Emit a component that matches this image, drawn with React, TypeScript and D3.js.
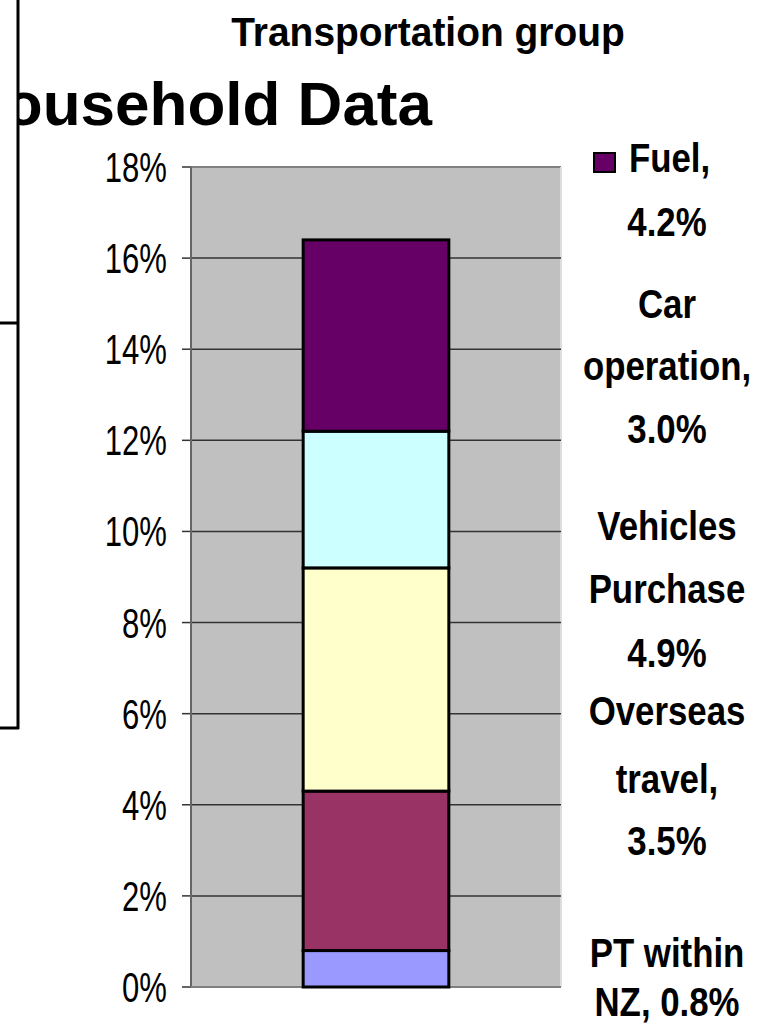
import * as d3 from "d3";

const width = 767;
const height = 1024;
const plot = { left: 191, right: 561, top: 167, bottom: 987 };

// stack order bottom -> top
const categories = ["PT within NZ", "Overseas travel", "Vehicles Purchase", "Car operation", "Fuel"];
const values = [0.8, 3.5, 4.9, 3.0, 4.2];
const colors = ["#9999FF", "#993366", "#FFFFCC", "#CCFFFF", "#660066"];
const yTicks = [0, 2, 4, 6, 8, 10, 12, 14, 16, 18];

// legend text, top -> bottom
const legendLines = [
  ["Fuel,", "4.2%"],
  ["Car", "operation,", "3.0%"],
  ["Vehicles", "Purchase", "4.9%"],
  ["Overseas", "travel,", "3.5%"],
  ["PT within", "NZ, 0.8%"],
];
const legendBaselines = [
  [172, 236],
  [318, 380, 443],
  [540, 603, 667],
  [725, 793, 855],
  [967, 1016],
];

const font = "'Liberation Sans', Arial, sans-serif";

function SText({ x, y, sx = 1, sy = 1, size, anchor = "start", bold = false, children }) {
  return (
    <text
      transform={`translate(${x},${y}) scale(${sx},${sy})`}
      fontFamily={font}
      fontSize={size}
      fontWeight={bold ? "bold" : "normal"}
      textAnchor={anchor}
      fill="#000"
    >
      {children}
    </text>
  );
}

export default function App() {
  const y = d3.scaleLinear().domain([0, 18]).range([plot.bottom, plot.top]);
  const x = d3
    .scaleBand()
    .domain(["Transportation"])
    .range([plot.left, plot.right])
    .paddingInner(0)
    .paddingOuter(0.77);

  // cumulative stack
  const stack = [];
  let acc = 0;
  values.forEach((v, i) => {
    stack.push({ y0: acc, y1: acc + v, color: colors[i], name: categories[i] });
    acc += v;
  });

  const bx = x("Transportation");
  const bw = x.bandwidth();

  return (
    <svg
      width={width}
      height={height}
      style={{ position: "absolute", left: 0, top: 0, background: "#fff" }}
    >
      <defs>
        <clipPath id="titleClip">
          <rect x={18} y={0} width={width} height={200} />
        </clipPath>
      </defs>

      {/* big title, partly hidden behind the left box */}
      <g clipPath="url(#titleClip)">
        <SText x={432} y={125} size={62} anchor="end" bold>
          Household Data
        </SText>
      </g>

      {/* left box lines */}
      <line x1={18} x2={18} y1={0} y2={729} stroke="#000" strokeWidth={3} />
      <line x1={0} x2={19} y1={323} y2={323} stroke="#000" strokeWidth={3} />
      <line x1={0} x2={19} y1={728} y2={728} stroke="#000" strokeWidth={3} />

      <SText x={428} y={46} size={41} sx={0.95} anchor="middle" bold>
        Transportation group
      </SText>

      {/* plot area */}
      <rect
        x={plot.left}
        y={plot.top}
        width={plot.right - plot.left}
        height={plot.bottom - plot.top}
        fill="#C0C0C0"
      />
      <line x1={plot.left} x2={plot.right} y1={plot.top} y2={plot.top} stroke="#808080" strokeWidth={2} />
      <line x1={plot.right} x2={plot.right} y1={plot.top} y2={plot.bottom} stroke="#DDDDDD" strokeWidth={2} />

      {yTicks.map((t) => (
        <g key={t}>
          {t > 0 && t < 18 && (
            <line x1={plot.left} x2={plot.right} y1={y(t)} y2={y(t)} stroke="#333" strokeWidth={1.5} />
          )}
          <line x1={182} x2={plot.left} y1={y(t)} y2={y(t)} stroke="#333" strokeWidth={1.5} />
          <SText x={167} y={y(t) + 15} size={42} sx={0.74} anchor="end">
            {t + "%"}
          </SText>
        </g>
      ))}

      <line x1={plot.left} x2={plot.left} y1={plot.top} y2={plot.bottom} stroke="#666" strokeWidth={2} />
      <line x1={plot.left} x2={plot.right} y1={plot.bottom} y2={plot.bottom} stroke="#808080" strokeWidth={2} />

      {stack.map((s) => (
        <rect
          key={s.name}
          x={bx}
          y={y(s.y1)}
          width={bw}
          height={y(s.y0) - y(s.y1)}
          fill={s.color}
          stroke="#000"
          strokeWidth={3}
        />
      ))}

      {/* legend */}
      <rect x={594} y={153} width={21} height={19} fill="#660066" stroke="#000" strokeWidth={2} />
      {legendLines.map((lines, i) =>
        lines.map((ln, j) => (
          <SText
            key={i + "-" + j}
            x={i === 0 && j === 0 ? 629 : 667}
            y={legendBaselines[i][j]}
            size={40}
            sx={0.87}
            anchor={i === 0 && j === 0 ? "start" : "middle"}
            bold
          >
            {ln}
          </SText>
        ))
      )}
    </svg>
  );
}
